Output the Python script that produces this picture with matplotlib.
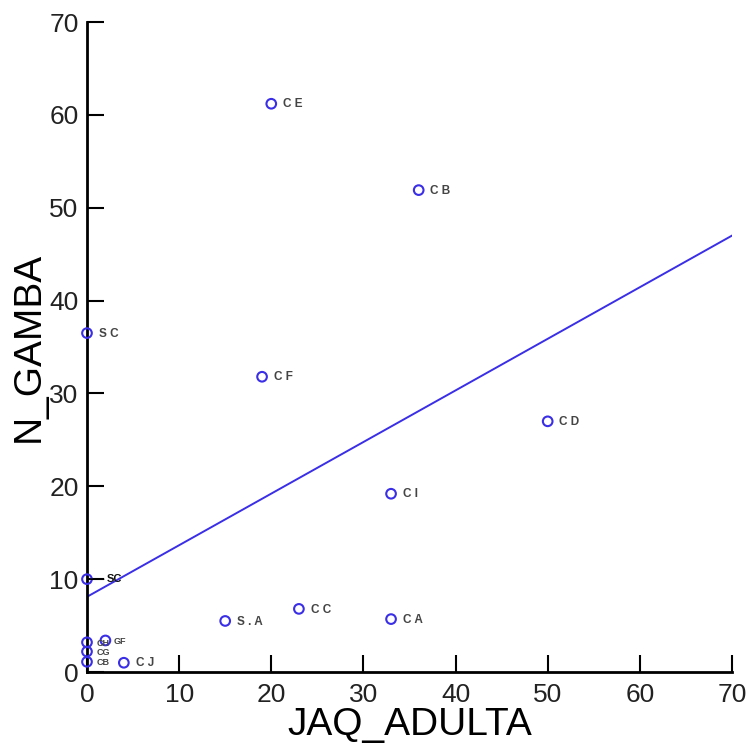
import matplotlib.pyplot as plt

# station values: adult jaq count vs. number of gamba
labels = ["CE", "CB", "SC", "CF", "CD", "CI", "SC", "S.A", "CC", "CA",
          "CJ", "CH", "CG", "CB", "GF"]
jaq_adulta = [20, 36, 0, 19, 50, 33, 0, 15, 23, 33, 4, 0, 0, 0, 2]
n_gamba = [61.2, 51.9, 36.5, 31.8, 27.0, 19.2, 10.0, 5.5, 6.8, 5.7,
           1.0, 3.2, 2.2, 1.1, 3.4]

# fitted line end points
fit_x = [0, 70]
fit_y = [8.1, 47.0]

ticks = [0, 10, 20, 30, 40, 50, 60, 70]

blue = "#3a2ee6"

plt.rcParams["font.family"] = "Liberation Sans"

fig = plt.figure(figsize=(7.46, 7.55), dpi=100)
ax = fig.add_axes([0.1166, 0.1099, 0.8646, 0.8609])

ax.plot(fit_x, fit_y, color=blue, lw=1.4, zorder=2)
ax.scatter(jaq_adulta, n_gamba, s=48, marker="o", facecolors="none",
           edgecolors=blue, linewidths=1.5, zorder=3, clip_on=False)

for name, x, y in zip(labels, jaq_adulta, n_gamba):
    if name == "SC" and y < 20:
        # crowded point: dark label with a leader line
        ax.annotate(name, (x, y), xytext=(14, 0), textcoords="offset points",
                    fontsize=8, fontweight="bold", color="#111111",
                    va="center", ha="left",
                    arrowprops=dict(arrowstyle="-", color="black", lw=1.2,
                                    shrinkA=0, shrinkB=3))
        continue
    # points piled up near the origin get compact labels
    crowded = y < 4 and x <= 2
    dx = 7 if crowded else 8.5
    if name == "GF":
        dx = 6
    ax.annotate(name if crowded else " ".join(name), (x, y),
                xytext=(dx, -0.5),
                textcoords="offset points", fontsize=6.5 if crowded else 8.5,
                color="#444444", fontweight="bold", va="center", ha="left",
                zorder=4, annotation_clip=False)

ax.set_xlim(0, 70)
ax.set_ylim(0, 70)
ax.set_xticks(ticks)
ax.set_yticks(ticks)
ax.tick_params(direction="in", length=12, width=1.5, colors="black",
               labelsize=19, labelcolor="#222222", pad=8)
ax.tick_params(axis="y", pad=6)
for side in ["top", "right"]:
    ax.spines[side].set_visible(False)
for side in ["left", "bottom"]:
    ax.spines[side].set_linewidth(2)

ax.set_xlabel("JAQ_ADULTA", fontsize=28, labelpad=0)
ax.set_ylabel("N_GAMBA", fontsize=28, labelpad=2)

fig.savefig("out.png", dpi=100)
